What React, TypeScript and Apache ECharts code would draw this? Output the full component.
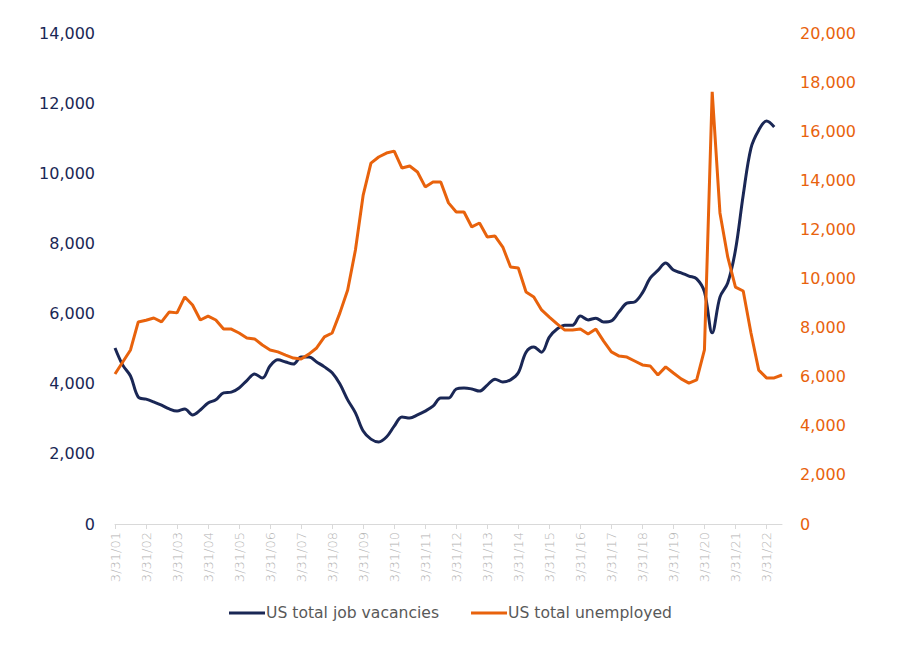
import React, { useEffect, useRef } from "react";
import * as echarts from "echarts";

// Quarter-end categories, 3/31/01 .. 9/30/22
const quarterEnds = ["3/31/", "6/30/", "9/30/", "12/31/"];
const years = ["01","02","03","04","05","06","07","08","09","10","11","12","13","14","15","16","17","18","19","20","21","22"];
const categories: string[] = [];
years.forEach((y) => quarterEnds.forEach((q) => categories.push(q + y)));
categories.splice(87); // ends at 9/30/22

// US total job vacancies (thousands), left axis
const vacancies = [
  5020, 4530, 4220, 3620, 3560, 3480, 3390, 3280, 3220, 3280, 3110, 3250,
  3450, 3540, 3740, 3760, 3880, 4090, 4280, 4160, 4510, 4680, 4620, 4560,
  4760, 4760, 4620, 4480, 4310, 3990, 3540, 3170, 2650, 2420, 2340, 2480,
  2790, 3050, 3020, 3110, 3220, 3360, 3590, 3590, 3850, 3880, 3850, 3790,
  3960, 4130, 4050, 4110, 4310, 4900, 5050, 4900, 5330, 5560, 5670, 5670,
  5930, 5820, 5870, 5760, 5790, 6050, 6300, 6330, 6590, 7010, 7230, 7440,
  7240, 7160, 7070, 6990, 6620, 5450, 6470, 6870, 7810, 9380, 10720, 11230,
  11490, 11320,
];

// US total unemployed (thousands), right axis
const unemployed = [
  6110, 6600, 7090, 8230, 8300, 8390, 8230, 8640, 8600, 9250, 8920, 8310,
  8470, 8310, 7940, 7940, 7780, 7580, 7540, 7290, 7090, 7010, 6880, 6760,
  6720, 6920, 7170, 7620, 7780, 8600, 9530, 11160, 13400, 14700, 14950, 15110,
  15190, 14500, 14580, 14340, 13730, 13930, 13930, 13080, 12710, 12710, 12100, 12260,
  11690, 11730, 11280, 10470, 10430, 9450, 9250, 8720, 8430, 8150, 7900, 7900,
  7940, 7740, 7940, 7450, 7010, 6840, 6800, 6640, 6480, 6440, 6070, 6400,
  6150, 5910, 5740, 5870, 7090, 17600, 12670, 10880, 9650, 9490, 7780, 6270,
  5950, 5950, 6070,
];

const leftTicks = { min: 0, max: 14000, interval: 2000 };
const rightTicks = { min: 0, max: 20000, interval: 2000 };

const NAVY = "#1a2755";
const ORANGE = "#e8620c";

export default function App() {
  const ref = useRef<HTMLDivElement>(null);
  useEffect(() => {
    if (!ref.current) return;
    const chart = echarts.init(ref.current, undefined, { renderer: "svg" });
    const fmt = (v: number) => v.toLocaleString("en-US");
    chart.setOption({
      animation: false,
      backgroundColor: "#ffffff",
      grid: { left: 115, right: 118, top: 33, bottom: 128, containLabel: false },
      legend: {
        bottom: 26,
        left: 224,
        itemWidth: 36,
        itemHeight: 3,
        itemGap: 32,
        icon: "rect",
        textStyle: { color: "#595959", fontSize: 15.6, fontFamily: "DejaVu Sans", padding: [0, 0, 0, -4] },
        data: ["US total job vacancies", "US total unemployed"],
      },
      xAxis: {
        type: "category",
        data: categories,
        boundaryGap: false,
        axisLine: { lineStyle: { color: "#d9d9d9", width: 1 } },
        axisTick: { show: true, interval: 3, length: 5, lineStyle: { color: "#d9d9d9" } },
        axisLabel: {
          interval: 3,
          rotate: 90,
          margin: 8,
          color: "#b3b3b3",
          fontSize: 13,
          fontFamily: "DejaVu Sans",
          fontWeight: 300,
        },
        splitLine: { show: false },
      },
      yAxis: [
        {
          type: "value",
          ...leftTicks,
          position: "left",
          axisLine: { show: false },
          axisTick: { show: false },
          splitLine: { show: false },
          axisLabel: {
            formatter: fmt,
            color: NAVY,
            fontSize: 16,
            fontFamily: "DejaVu Sans",
            margin: 20,
          },
        },
        {
          type: "value",
          ...rightTicks,
          position: "right",
          axisLine: { show: false },
          axisTick: { show: false },
          splitLine: { show: false },
          axisLabel: {
            formatter: fmt,
            color: ORANGE,
            fontSize: 16,
            fontFamily: "DejaVu Sans",
            margin: 18,
          },
        },
      ],
      series: [
        {
          name: "US total job vacancies",
          type: "line",
          yAxisIndex: 0,
          data: vacancies,
          smooth: 0.35,
          symbol: "none",
          lineStyle: { color: NAVY, width: 3 },
          itemStyle: { color: NAVY },
        },
        {
          name: "US total unemployed",
          type: "line",
          yAxisIndex: 1,
          data: unemployed,
          smooth: false,
          symbol: "none",
          lineStyle: { color: ORANGE, width: 3 },
          itemStyle: { color: ORANGE },
        },
      ],
    });
    return () => chart.dispose();
  }, []);
  return <div ref={ref} style={{ width: 900, height: 652, position: "absolute", left: 0, top: 0 }} />;
}
